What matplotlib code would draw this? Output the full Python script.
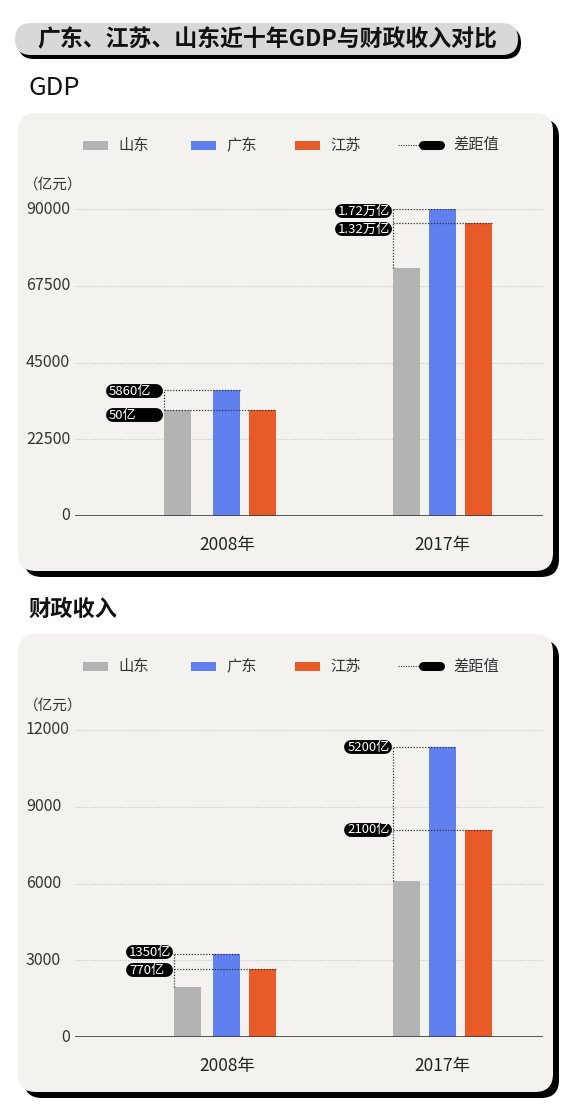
import matplotlib.pyplot as plt
import matplotlib.transforms as mtransforms
from matplotlib.patches import FancyBboxPatch, Rectangle
from matplotlib.lines import Line2D

plt.rcParams['font.family'] = ['Noto Sans CJK SC', 'DejaVu Sans']

# ---- data ----
years = ['2008年', '2017年']
provinces = ['山东', '广东', '江苏']
colors = ['#b3b3b3', '#5f80ee', '#e85a28']

gdp_sd = [30933, 72678]
gdp_gd = [36797, 89879]
gdp_js = [30982, 85869]
gdp_gaps = [['5860亿', '50亿'], ['1.72万亿', '1.32万亿']]
gdp_ticks = [0, 22500, 45000, 67500, 90000]

rev_sd = [1950, 6080]
rev_gd = [3225, 11320]
rev_js = [2672, 8100]
rev_gaps = [['1350亿', '770亿'], ['5200亿', '2100亿']]
rev_ticks = [0, 3000, 6000, 9000, 12000]

title = '广东、江苏、山东近十年GDP与财政收入对比'

# ---- layout (pixels) ----
W, H = 580, 1114
fig = plt.figure(figsize=(W / 100, H / 100), dpi=100)
fig.patch.set_facecolor('white')


def box(x0, y0, x1, y1, r, color, z=0):
    p = FancyBboxPatch((x0 / 100, (H - y1) / 100), (x1 - x0) / 100, (y1 - y0) / 100,
                       boxstyle='round,pad=0,rounding_size=%f' % (r / 100),
                       transform=fig.dpi_scale_trans, fc=color, ec='none', zorder=z)
    fig.add_artist(p)


def fy(y):
    return 1 - y / H


# title bar
box(18, 27, 521, 59, 16, 'black')
box(15, 23, 518, 55, 16, '#d8d8d8')
fig.text(37 / W, fy(40), title, fontsize=16.5, fontweight='bold', va='center', color='#111')


def legend(yc):
    for (x0, name), c in zip([(83, provinces[0]), (191, provinces[1]), (295, provinces[2])], colors):
        fig.add_artist(Rectangle((x0 / 100, (H - yc - 4.5) / 100), 0.25, 0.09,
                                 transform=fig.dpi_scale_trans, fc=c, ec='none'))
        fig.text((x0 + 35) / W, fy(yc), name, fontsize=11, va='center', color='#333')
    fig.add_artist(Line2D([398 / W, 420 / W], [fy(yc), fy(yc)], transform=fig.transFigure,
                          color='#333', lw=0.8, linestyle=(0, (1, 1.2))))
    fig.add_artist(Line2D([423 / W, 440 / W], [fy(yc), fy(yc)], transform=fig.transFigure,
                          color='black', lw=6.5, solid_capstyle='round'))
    fig.text(453 / W, fy(yc), '差距值', fontsize=11, va='center', color='#333')


def chart(top, sd, gd, js, gaps, ticks, gray_shift, pill_w, pill_dy):
    # panel with shadow
    box(24, top + 6, 559, top + 464, 18, 'black')
    box(18, top, 553, top + 458, 18, '#f4f2ee')
    legend(top + 32)
    fig.text(24 / W, fy(top + 72), '（亿元）', fontsize=10.5, va='center', color='#333')

    ax_l, ax_r = 75, 543
    ax_t, ax_b = top + 96, top + 403
    ax = fig.add_axes([ax_l / W, fy(ax_b), (ax_r - ax_l) / W, (ax_b - ax_t) / H])
    ax.set_facecolor('none')
    xl = (-(227 - ax_l) / 215.5, 1 + (ax_r - 442.5) / 215.5)
    ax.set_xlim(xl)
    ax.set_ylim(0, ticks[-1])
    ux = (xl[1] - xl[0]) / (ax_r - ax_l)
    uy = ticks[-1] / (ax_b - ax_t)

    bw = 27 * ux
    xs = [0, 1]
    x_sd = [x + s * ux for x, s in zip(xs, gray_shift)]
    x_gd = xs
    x_js = [x + 36 * ux for x in xs]
    ax.bar(x_sd, sd, bw, color=colors[0], zorder=2)
    ax.bar(x_gd, gd, bw, color=colors[1], zorder=2)
    ax.bar(x_js, js, bw, color=colors[2], zorder=2)

    for spine in ax.spines.values():
        spine.set_visible(False)
    ax.set_yticks(ticks)
    ax.set_yticklabels([])
    ax.set_xticks([])
    ax.tick_params(length=0)
    ax.grid(axis='y', linestyle=(0, (1, 1.5)), color='#c9c7c2', lw=0.8, zorder=1)
    ax.axhline(0, color='#3a3a3a', lw=1.2, zorder=3)

    tr = mtransforms.blended_transform_factory(fig.transFigure, ax.transData)
    for t in ticks:
        if t == 0:
            ax.text(70 / W, t, '0', transform=tr, ha='right', va='center', fontsize=11.5, color='#333')
        else:
            ax.text(26 / W, t, str(t), transform=tr, ha='left', va='center', fontsize=11.5, color='#333')

    for x, y in zip(xs, years):
        ax.annotate(y, xy=(x, 0), xytext=(0, -29), textcoords='offset pixels',
                    ha='center', va='center', fontsize=12.5, fontweight='medium', color='#222')

    # gap annotations
    dot = dict(color='#333', lw=0.9, linestyle=(0, (1, 1.3)), zorder=4)
    for i in range(2):
        xg = x_sd[i] - bw / 2
        ax.plot([xg, xg], [sd[i], max(gd[i], js[i])], **dot)
        targets = [(gd[i], x_gd[i] + bw / 2), (js[i], x_js[i] + bw / 2)]
        for k, (val, xr) in enumerate(targets):
            ax.plot([xg, xr], [val, val], **dot)
            yp = val - pill_dy[i][k] * uy
            ax.plot([xg - (pill_w - 7) * ux, xg - 8 * ux], [yp, yp], color='black',
                    lw=10, solid_capstyle='round', zorder=5, clip_on=False)
            ax.annotate(gaps[i][k], xy=(xg, yp), xytext=(-(pill_w - 3), 0), textcoords='offset pixels',
                        ha='left', va='center', fontsize=9.5, color='white', zorder=6)
    return ax


fig.text(28 / W, fy(88), 'GDP', fontsize=18.5, fontweight='medium', va='center', color='#111')
chart(113, gdp_sd, gdp_gd, gdp_js, gdp_gaps, gdp_ticks,
      [-49.5, -36.5], 58, [[1, 5], [2, 6]])

fig.text(28 / W, fy(609), '财政收入', fontsize=16, fontweight='bold', va='center', color='#111')
chart(634, rev_sd, rev_gd, rev_js, rev_gaps, rev_ticks,
      [-39.5, -36.5], 48, [[-2, 1.5], [0, 0]])

fig.savefig('out.png', dpi=100, facecolor='white')
